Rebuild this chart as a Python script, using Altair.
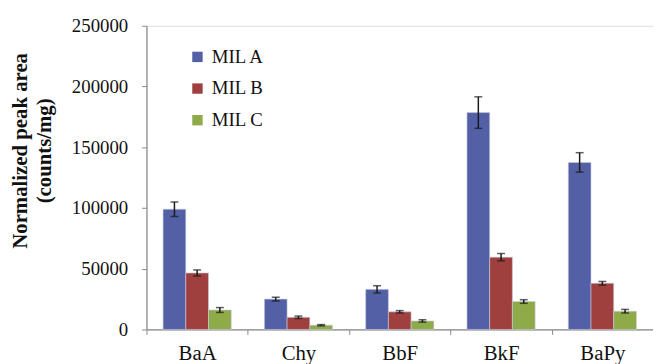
import altair as alt
import pandas as pd

compounds = ["BaA", "Chy", "BbF", "BkF", "BaPy"]
series = ["MIL A", "MIL B", "MIL C"]
mil_a = [99000, 25000, 33000, 178500, 137500]
mil_b = [46500, 10000, 14500, 59500, 38000]
mil_c = [16000, 3500, 7000, 23000, 15000]
err_a = [6000, 1500, 3000, 13000, 8000]
err_b = [2500, 1000, 1000, 3000, 1500]
err_c = [2000, 500, 1000, 1500, 1500]
colors = ["#5360A5", "#A0403E", "#8FAA48"]

rows = []
for s, vals, errs in zip(series, [mil_a, mil_b, mil_c], [err_a, err_b, err_c]):
    for c, v, e in zip(compounds, vals, errs):
        rows.append({"compound": c, "series": s, "value": v, "lo": v - e, "hi": v + e})
df = pd.DataFrame(rows)

font = "Liberation Serif, Times New Roman, serif"

x = alt.X("compound:N", sort=compounds, title=None,
          scale=alt.Scale(paddingInner=0, paddingOuter=0),
          axis=alt.Axis(labelAngle=0, tickBand="extent", labelFontSize=21, labelFont=font,
                        labelColor="#111", domainColor="#8a8a8a", tickColor="#8a8a8a",
                        tickSize=5, labelPadding=8, domainWidth=1.2))
xo = alt.XOffset("series:N", sort=series,
                 scale=alt.Scale(paddingInner=0, paddingOuter=0.73))

base = alt.Chart(df)

bars = base.mark_bar(stroke="#c8cce0", strokeWidth=0.6).encode(
    x=x,
    xOffset=xo,
    y=alt.Y("value:Q",
            scale=alt.Scale(domain=[0, 250000], nice=False),
            title=["Normalized peak area", "(counts/mg)"],
            axis=alt.Axis(values=[0, 50000, 100000, 150000, 200000, 250000], grid=False,
                          format="d", labelFontSize=19, labelFont=font, labelColor="#111",
                          titleFont=font, titleFontSize=21, titleFontWeight="bold",
                          titleColor="#111", titleLineHeight=24, titlePadding=17,
                          titleY=126,
                          domainColor="#8a8a8a", tickColor="#8a8a8a", tickSize=5,
                          labelPadding=14, domainWidth=1.2)),
    color=alt.Color("series:N", sort=series,
                    scale=alt.Scale(domain=series, range=colors),
                    legend=alt.Legend(title=None, orient="none", legendX=42, legendY=22,
                                      symbolType="square", symbolSize=110,
                                      symbolStrokeWidth=0, labelFontSize=19,
                                      labelFont=font, labelColor="#111",
                                      rowPadding=12, labelOffset=5)),
)

rules = base.mark_rule(color="#1a1a1a", strokeWidth=1.5).encode(
    x=x, xOffset=xo, y="lo:Q", y2="hi:Q")

caps_hi = base.mark_tick(color="#1a1a1a", thickness=1.5, size=8, orient="horizontal").encode(
    x=x, xOffset=xo, y="hi:Q")
caps_lo = base.mark_tick(color="#1a1a1a", thickness=1.5, size=8, orient="horizontal").encode(
    x=x, xOffset=xo, y="lo:Q")

chart = alt.layer(bars, rules, caps_hi, caps_lo).properties(
    width=512, height=307,
    autosize=alt.AutoSizeParams(type="none"),
    padding={"left": 140, "top": 16, "right": 0, "bottom": 33},
).configure_view(stroke=None).configure(background="white")

chart.save("out.html", embed_options={"renderer": "svg", "actions": False})
